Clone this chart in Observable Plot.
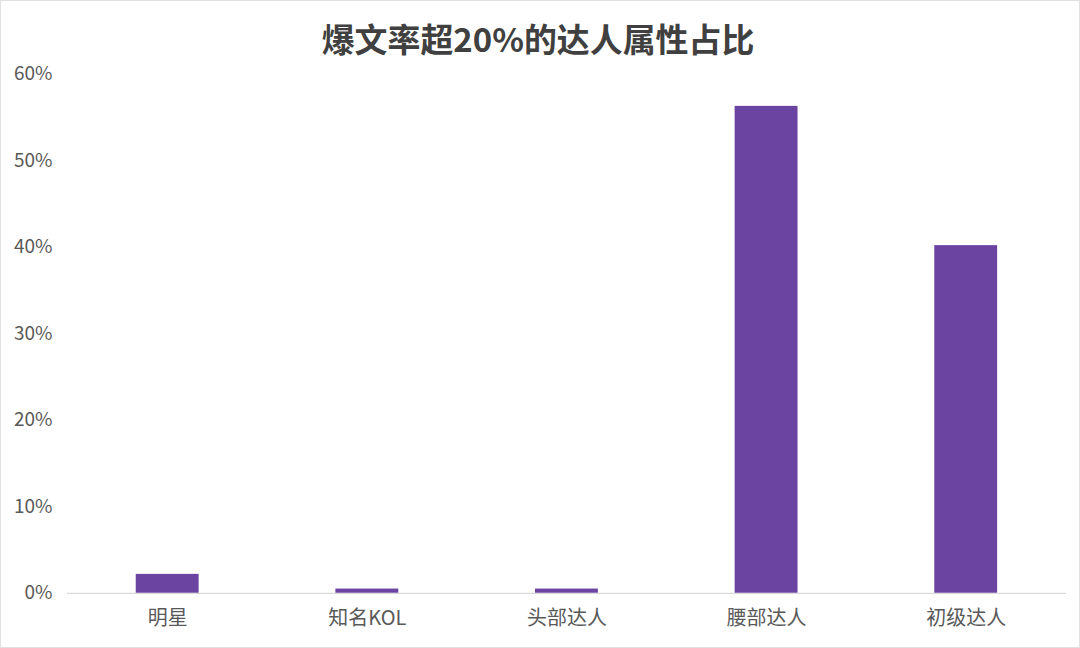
<!DOCTYPE html>
<html>
<head>
<meta charset="utf-8">
<script src="https://cdn.jsdelivr.net/npm/d3@7"></script>
<script src="https://cdn.jsdelivr.net/npm/@observablehq/plot@0.6"></script>
<style>
  html, body { margin: 0; padding: 0; background: #fff; }
  #wrap { width: 1080px; height: 648px; box-sizing: border-box; border: 1px solid #e0e0e0; position: relative; overflow: hidden; }
  #wrap svg { position: absolute; left: -1px; top: -1px; }
</style>
</head>
<body>
<div id="wrap"></div>
<script>
const title = "爆文率超20%的达人属性占比";
const categories = ["明星", "知名KOL", "头部达人", "腰部达人", "初级达人"];
const values = [0.022, 0.005, 0.005, 0.563, 0.402];
const yTicks = [0, 0.1, 0.2, 0.3, 0.4, 0.5, 0.6];

const data = categories.map((c, i) => ({category: c, value: values[i]}));

const chart = Plot.plot({
  width: 1080,
  height: 648,
  marginTop: 74,
  marginBottom: 54,
  marginLeft: 67,
  marginRight: 12,
  style: {fontFamily: "'Noto Sans CJK SC', 'Noto Sans', sans-serif", background: "transparent"},
  x: {domain: categories, paddingInner: 0.685, paddingOuter: 0.3425, label: null, axis: null},
  y: {domain: [0, 0.6], label: null, axis: null},
  marks: [
    Plot.axisY(yTicks, {tickSize: 0, tickPadding: 15, tickFormat: d3.format(".0%"), fontSize: 19, fill: "#595959", label: null}),
    Plot.axisX({tickSize: 0, tickPadding: 17, fontSize: 20, fill: "#595959", label: null}),
    Plot.barY(data, {x: "category", y: "value", fill: "#6a44a0"}),
    Plot.ruleY([0], {stroke: "#d9d9d9", strokeWidth: 1.2}),
    Plot.text([title], {frameAnchor: "top", dx: -29, dy: -46, fontSize: 33, fontWeight: "bold", fill: "#404040"})
  ]
});
document.getElementById("wrap").appendChild(chart);
</script>
</body>
</html>
